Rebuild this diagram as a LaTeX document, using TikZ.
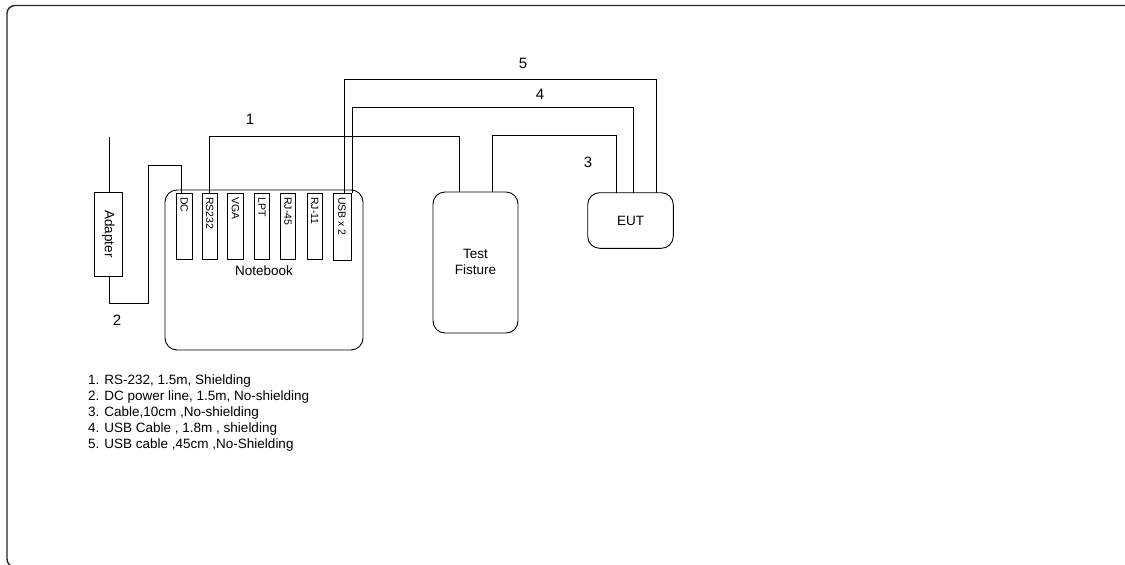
\documentclass[tikz,border=0pt]{standalone}
\usepackage{fontspec}
\setmainfont{Liberation Sans}
\begin{document}
\begin{tikzpicture}[x=1pt,y=-1pt,
  box/.style={draw,line width=0.9pt,inner sep=0pt,outer sep=0pt},
  rbox/.style={box,rounded corners=12pt},
  port/.style={box,line width=0.8pt,minimum width=15.5pt,minimum height=66pt},
  porttxt/.style={font=\fontsize{10.5}{12}\selectfont,rotate=-90,anchor=west,inner sep=0pt},
  wire/.style={line width=0.7pt},
  num/.style={font=\fontsize{15}{18}\selectfont,inner sep=0pt},
  lbl/.style={font=\fontsize{13.5}{16}\selectfont,align=center,inner sep=0pt}]
\useasboundingbox (0,0) rectangle (1125,565);
% outer frame
\draw[line width=1.4pt,rounded corners=8pt,black!85] (1135,5.5) -- (7,5.5) -- (7,567) -- (40,567);
% adapter
\node[box,minimum width=28.7pt,minimum height=84pt] (adapter) at (108.3,234) {};
\node[lbl,rotate=-90] (adaptertxt) at (adapter.center) {Adapter};
% notebook
\node[rbox,minimum width=198pt,minimum height=160pt] (notebook) at (264,270) {};
\node[lbl] (nbtxt) at (264,271) {Notebook};
% ports
\node[port] (dc) at (184.2,226) {};
\node[port] (rs) at (209.7,226) {};
\node[port] (vga) at (235.5,226) {};
\node[port] (lpt) at (262,226) {};
\node[port] (rj45) at (288,226) {};
\node[port] (rj11) at (314.7,226) {};
\node[port,minimum width=18pt,minimum height=67pt] (usb) at (342,226.5) {};
\foreach \p/\t in {dc/DC,rs/RS232,vga/VGA,lpt/LPT,rj45/RJ-45,rj11/RJ-11,usb/USB x 2}
  \node[porttxt] (\p txt) at ([yshift=-4pt]\p.north) {\t};
% test fixture and EUT
\node[rbox,minimum width=85pt,minimum height=141pt] (fix) at (475.5,262.5) {};
\node[lbl] (fixtxt) at (475.5,262) {Test\\Fisture};
\node[rbox,minimum width=85.6pt,minimum height=55.6pt] (eut) at (630.5,220.5) {};
\node[lbl] (euttxt) at (630.5,220.5) {EUT};
% wires
\coordinate (adtop) at (109,136.7);
\draw[wire] (adtop) -- (adapter.north -| adtop);
\draw[wire] (adapter.south -| adtop) |- (148,303) |- (181.7,165) -- (dc.north -| 181.7,0);
\draw[wire] (rs.north) |- (459,136) -- (fix.north -| 459,0);
\draw[wire] (usb.north -| 344.3,0) |- (656,79.3) -- (eut.north -| 656,0);
\draw[wire] (usb.north -| 352.7,0) |- (633.3,107.3) -- (eut.north -| 633.3,0);
\draw[wire] (fix.north -| 492.7,0) |- (616.7,135.7) -- (eut.north -| 616.7,0);
% numbers
\node[num] (n1) at (250,119) {1};
\node[num] (n2) at (117,320) {2};
\node[num] (n3) at (588,162) {3};
\node[num] (n4) at (540,94) {4};
\node[num] (n5) at (523,63) {5};
% legend
\node[lbl,align=left,anchor=north west] (legend) at (88,375) {1. RS-232, 1.5m, Shielding\\
2. DC power line, 1.5m, No-shielding\\
3. Cable,10cm ,No-shielding\\
4. USB Cable , 1.8m , shielding\\
5. USB cable ,45cm ,No-Shielding};
\end{tikzpicture}
\end{document}
